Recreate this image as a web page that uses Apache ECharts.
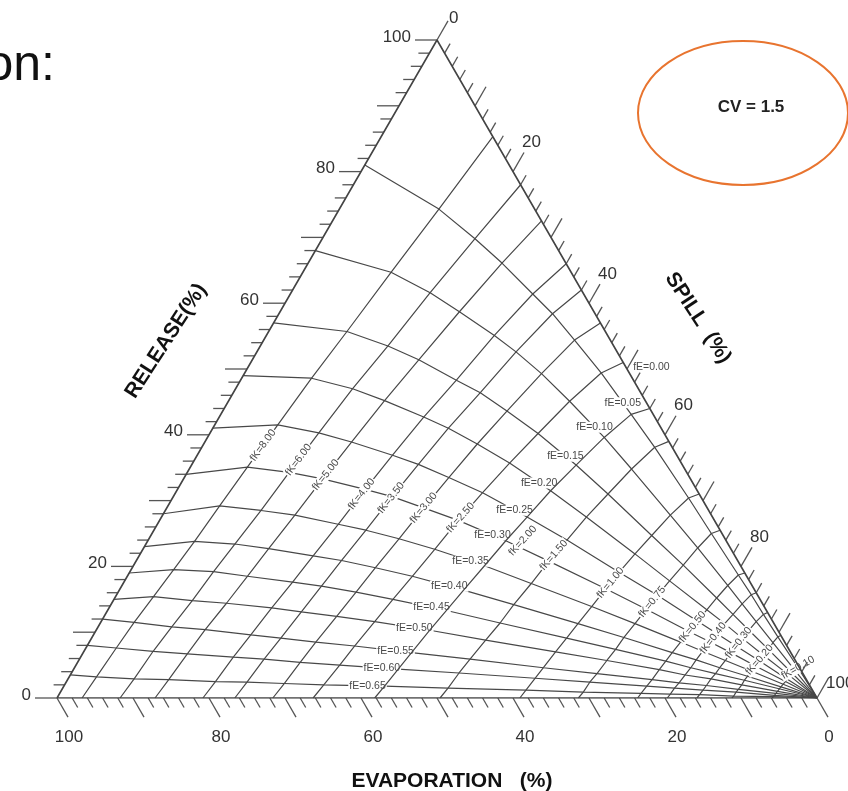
<!DOCTYPE html>
<html><head><meta charset="utf-8">
<script src="https://cdn.jsdelivr.net/npm/echarts@6/dist/echarts.min.js"></script>
<style>html,body{margin:0;padding:0;background:#fff}#c{width:848px;height:791px}</style>
</head><body><div id="c"></div>
<script>
// ================= DATA =================
const tickValues = [0,2,4,6,8,10,12,14,16,18,20,22,24,26,28,30,32,34,36,38,40,42,44,46,48,50,52,54,56,58,60,62,64,66,68,70,72,74,76,78,80,82,84,86,88,90,92,94,96,98,100];
const fELevels = ['0.00','0.05','0.10','0.15','0.20','0.25','0.30','0.35','0.40','0.45','0.50','0.55','0.60','0.65'];
const fKLevels = ['8.00','6.00','5.00','4.00','3.50','3.00','2.50','2.00','1.50','1.00','0.75','0.50','0.40','0.30','0.20','0.10'];
// Each fK curve: [evaporation %, release %] at fE = 0.00 ... 0.65, then where it meets the base (release 0)
const fK_8_00 = [[0,85.3],[12.6,74.3],[23.7,64.7],[34.0,55.7],[42.2,48.6],[50.2,41.5],[57.4,35.1],[64.0,29.2],[70.0,23.8],[74.9,19.5],[79.6,15.4],[84.1,11.5],[88.4,7.6],[93.2,3.2],[96.7,0]];
const fK_6_00 = [[0,78],[10.1,69.8],[20.1,61.6],[29.7,53.5],[37.6,47.0],[45.4,40.3],[52.3,34.3],[58.9,28.5],[64.9,23.4],[69.8,19.2],[74.8,14.8],[79.5,10.8],[83.8,7.1],[88.4,2.9],[91.7,0]];
const fK_5_00 = [[0,72.5],[8.4,66.1],[17.7,58.7],[26.7,51.4],[34.3,45.2],[41.8,38.9],[48.4,33.3],[54.8,27.8],[60.8,22.7],[65.7,18.5],[70.5,14.4],[75.3,10.4],[79.5,6.7],[83.9,2.8],[87.1,0]];
const fK_4_00 = [[0,66],[6.7,61.4],[14.9,55.1],[23.3,48.3],[30.4,42.7],[37.4,36.9],[43.6,31.7],[49.8,26.4],[55.5,21.6],[60.2,17.6],[64.9,13.7],[69.7,9.6],[73.7,6.2],[77.9,2.5],[80.8,0]];
const fK_3_50 = [[0,62],[5.6,58.4],[13.3,52.6],[21.1,46.4],[28.0,41.0],[34.7,35.5],[40.6,30.6],[46.6,25.5],[52.1,20.9],[56.7,17.0],[61.3,13.1],[66.0,9.1],[69.8,5.9],[73.8,2.4],[76.6,0]];
const fK_3_00 = [[0,57],[4.7,54.4],[11.6,49.3],[19.0,43.6],[25.4,38.6],[31.7,33.5],[37.3,28.9],[42.9,24.2],[48.2,19.8],[52.6,16.1],[57.0,12.4],[61.7,8.5],[65.3,5.4],[69.0,2.2],[71.6,0]];
const fK_2_50 = [[0,51],[3.7,49.4],[10.0,45.1],[16.6,40.2],[22.6,35.7],[28.4,31.2],[33.7,27.0],[39.0,22.6],[44.0,18.5],[48.3,15.0],[52.4,11.6],[56.9,7.9],[60.3,5.0],[63.9,2.0],[66.3,0]];
const fK_2_00 = [[0,44],[2.9,43.1],[8.2,39.6],[14.0,35.4],[19.3,31.5],[24.4,27.5],[29.0,23.9],[33.7,20.1],[38.3,16.4],[42.1,13.3],[45.8,10.3],[49.9,6.9],[52.9,4.4],[56.0,1.8],[58.2,0]];
const fK_1_50 = [[0,39],[2.3,38.1],[7.0,34.8],[12.0,31.0],[16.6,27.5],[20.9,24.0],[24.9,20.8],[28.9,17.4],[32.8,14.2],[36.0,11.4],[39.2,8.8],[42.7,5.9],[45.2,3.8],[47.8,1.5],[49.6,0]];
const fK_1_00 = [[0,31],[1.7,30.4],[5.4,27.8],[9.4,24.7],[13.0,21.9],[16.5,19.1],[19.5,16.6],[22.7,13.9],[25.8,11.3],[28.4,9.1],[30.9,7.0],[33.7,4.6],[35.6,3.0],[37.7,1.2],[39.1,0]];
const fK_0_75 = [[0,25.5],[1.4,25.0],[4.3,22.8],[7.5,20.2],[10.5,17.8],[13.2,15.6],[15.7,13.5],[18.3,11.3],[20.8,9.2],[22.8,7.4],[24.8,5.7],[27.1,3.7],[28.7,2.4],[30.3,0.9],[31.4,0]];
const fK_0_50 = [[0,19],[1.0,18.7],[3.2,17.1],[5.6,15.2],[7.8,13.4],[9.9,11.7],[11.8,10.1],[13.7,8.5],[15.6,6.9],[17.1,5.6],[18.6,4.3],[20.3,2.8],[21.5,1.8],[22.8,0.7],[23.6,0]];
const fK_0_40 = [[0,16],[0.8,15.7],[2.7,14.3],[4.7,12.7],[6.5,11.3],[8.3,9.8],[9.8,8.5],[11.5,7.1],[13.0,5.8],[14.3,4.6],[15.6,3.5],[17.0,2.3],[18.0,1.5],[19.0,0.6],[19.7,0]];
const fK_0_30 = [[0,13],[0.7,12.7],[2.2,11.6],[3.8,10.3],[5.3,9.1],[6.7,7.9],[7.9,6.9],[9.2,5.7],[10.5,4.6],[11.5,3.7],[12.5,2.9],[13.6,1.9],[14.4,1.2],[15.2,0.5],[15.8,0]];
const fK_0_20 = [[0,9.5],[0.5,9.3],[1.6,8.4],[2.7,7.4],[3.8,6.5],[4.8,5.7],[5.7,4.9],[6.6,4.1],[7.5,3.3],[8.2,2.7],[8.9,2.0],[9.7,1.3],[10.2,0.9],[10.8,0.3],[11.2,0]];
const fK_0_10 = [[0,4.7],[0.2,4.6],[0.8,4.2],[1.4,3.8],[1.9,3.4],[2.5,2.9],[2.9,2.5],[3.4,2.1],[3.9,1.7],[4.3,1.4],[4.7,1.0],[5.1,0.7],[5.4,0.4],[5.7,0.2],[5.9,0]];
// fE curves meet the release axis (no spill) at: fE = 0.05 ... 0.65
const fEAtReleaseAxis = [[19,81],[32,68],[43,57],[51,49],[59,41],[66,34],[72,28],[77,23],[81,19],[85,15],[88,12],[92,8],[96.5,3.5]];
// release level at which each fK label sits
const fKLabelRelease = [38.4,36.2,33.9,31.0,30.4,28.9,27.4,23.9,21.7,17.5,14.6,10.8,9.1,8.4,5.8,4.6];

// ================= BUILD =================
const fKCurves = [fK_8_00, fK_6_00, fK_5_00, fK_4_00, fK_3_50, fK_3_00, fK_2_50, fK_2_00, fK_1_50, fK_1_00, fK_0_75, fK_0_50, fK_0_40, fK_0_30, fK_0_20, fK_0_10];
const FONT = "'Liberation Sans', Arial, sans-serif";
const LINE = '#484848';
function toXY(E, R) { return [100 - E - R / 2, R]; }

function tickSeries(axis) {
  return {
    type: 'custom', coordinateSystem: 'cartesian2d', silent: true, clip: false, z: 6,
    data: tickValues.map(v => [v, 0]),
    renderItem: function (params, api) {
      const v = api.value(0);
      const len = v % 10 === 0 ? 22 : 11;
      let p, d;
      if (axis === 'R') { p = api.coord(toXY(100 - v, v)); d = [-1, 0]; }
      else if (axis === 'E') { p = api.coord(toXY(v, 0)); d = [0.5, 0.866]; }
      else { p = api.coord(toXY(0, 100 - v)); d = [0.5, -0.866]; }
      const e = [p[0] + d[0] * len, p[1] + d[1] * len];
      const children = [{ type: 'line', shape: { x1: p[0], y1: p[1], x2: e[0], y2: e[1] }, style: { stroke: '#555', lineWidth: 1.3 } }];
      if (v % 20 === 0) {
        let tx, ty, align = 'center';
        if (axis === 'R') { tx = e[0] - 4; ty = e[1] - 3; align = 'right'; }
        else if (axis === 'E') { tx = e[0] + 1; ty = e[1] + 20; }
        else {
          tx = e[0] - 2; ty = e[1] - 10; align = 'left';
          if (v === 0) { ty = e[1] - 3; tx = e[0] + 1; }
          if (v === 100) { ty = e[1] + 4; }
        }
        children.push({ type: 'text', style: { x: tx, y: ty, text: String(v), align: align, verticalAlign: 'middle', fill: '#333', font: '17px ' + FONT } });
      }
      return { type: 'group', children: children };
    }
  };
}

function meshLine(pts, z) {
  return { type: 'line', data: pts.map(p => toXY(p[0], p[1])), showSymbol: false, silent: true,
    lineStyle: { color: LINE, width: 1.2 }, z: z, animation: false };
}

const series = [];
// fE curves: release axis -> each fK curve (decreasing fK) -> 100 % spill corner
for (let i = 1; i < fELevels.length; i++) {
  const pts = [fEAtReleaseAxis[i - 1]].concat(fKCurves.map(c => c[i])).concat([[0, 0]]);
  series.push(meshLine(pts, 2));
}
// fK curves
fKCurves.forEach(c => series.push(meshLine(c, 4)));
// triangle
series.push({ type: 'line', data: [toXY(100, 0), toXY(0, 0), toXY(0, 100), toXY(100, 0)], showSymbol: false, silent: true,
  lineStyle: { color: '#444', width: 1.6 }, z: 6, animation: false });
series.push(tickSeries('R'), tickSeries('E'), tickSeries('S'));

// fE labels: on each fE curve, in the cell between fK = 2.50 and fK = 2.00
series.push({
  type: 'custom', coordinateSystem: 'cartesian2d', silent: true, clip: false, z: 3,
  data: fELevels.map((f, i) => [i, 0]),
  renderItem: function (params, api) {
    const i = api.value(0);
    const a = api.coord(toXY(fK_2_50[i][0], fK_2_50[i][1]));
    let x, y, align = 'center';
    if (i === 0) { x = a[0] + 9; y = a[1] + 5; align = 'left'; }
    else {
      const b = api.coord(toXY(fK_2_00[i][0], fK_2_00[i][1]));
      x = a[0] + (b[0] - a[0]) * 0.72; y = a[1] + (b[1] - a[1]) * 0.72;
    }
    return { type: 'text', style: { x: x, y: y, text: 'fE=' + fELevels[i], align: align, verticalAlign: 'middle',
      fill: '#4a4a4a', font: '10.5px ' + FONT, backgroundColor: '#fff', padding: [0, 1] } };
  }
});
// fK labels (along each fK curve)
const fKLabelShift = { 7: 17 };
series.push({
  type: 'custom', coordinateSystem: 'cartesian2d', silent: true, clip: false, z: 5,
  data: fKLevels.map((k, i) => [i, 0]),
  renderItem: function (params, api) {
    const idx = api.value(0);
    const curve = fKCurves[idx];
    const target = fKLabelRelease[idx];
    let j = 0;
    while (j < curve.length - 2 && curve[j + 1][1] > target) j++;
    const a = curve[j], b = curve[j + 1];
    const t = (a[1] - target) / (a[1] - b[1]);
    const pa = api.coord(toXY(a[0], a[1])), pb = api.coord(toXY(b[0], b[1]));
    const x = pa[0] + (pb[0] - pa[0]) * t + (fKLabelShift[idx] || 0), y = pa[1] + (pb[1] - pa[1]) * t;
    const rot = Math.atan2(pb[1] - pa[1], pa[0] - pb[0]);
    return { type: 'text', x: x, y: y, rotation: rot, style: { x: 0, y: 0, text: 'fK=' + fKLevels[idx], align: 'center', verticalAlign: 'middle',
      fill: '#4a4a4a', font: '10.5px ' + FONT, backgroundColor: '#fff', padding: [0, 1] } };
  }
});

const chart = echarts.init(document.getElementById('c'), null, { renderer: 'canvas' });
chart.setOption({
  animation: false,
  backgroundColor: '#fff',
  grid: { left: 57, top: 40, width: 760, height: 658 },
  xAxis: { type: 'value', min: 0, max: 100, show: false },
  yAxis: { type: 'value', min: 0, max: 100, show: false },
  series: series,
  graphic: [
    { type: 'text', x: 55, y: 66, style: { text: 'on:', align: 'right', verticalAlign: 'middle', fill: '#111', font: '50px ' + FONT } },
    { type: 'ellipse', shape: { cx: 743, cy: 113, rx: 105, ry: 72 }, style: { fill: 'none', stroke: '#E8742F', lineWidth: 2 } },
    { type: 'text', x: 751, y: 107, style: { text: 'CV = 1.5', align: 'center', verticalAlign: 'middle', fill: '#222', font: 'bold 17px ' + FONT } },
    { type: 'text', x: 166, y: 341, rotation: 57 * Math.PI / 180, style: { text: 'RELEASE(%)', align: 'center', verticalAlign: 'middle', fill: '#111', font: 'bold 21px ' + FONT } },
    { type: 'text', x: 698, y: 318, rotation: -57 * Math.PI / 180, style: { text: 'SPILL  (%)', align: 'center', verticalAlign: 'middle', fill: '#111', font: 'bold 21px ' + FONT } },
    { type: 'text', x: 452, y: 781, style: { text: 'EVAPORATION   (%)', align: 'center', verticalAlign: 'middle', fill: '#111', font: 'bold 21px ' + FONT } }
  ]
});
</script></body></html>
